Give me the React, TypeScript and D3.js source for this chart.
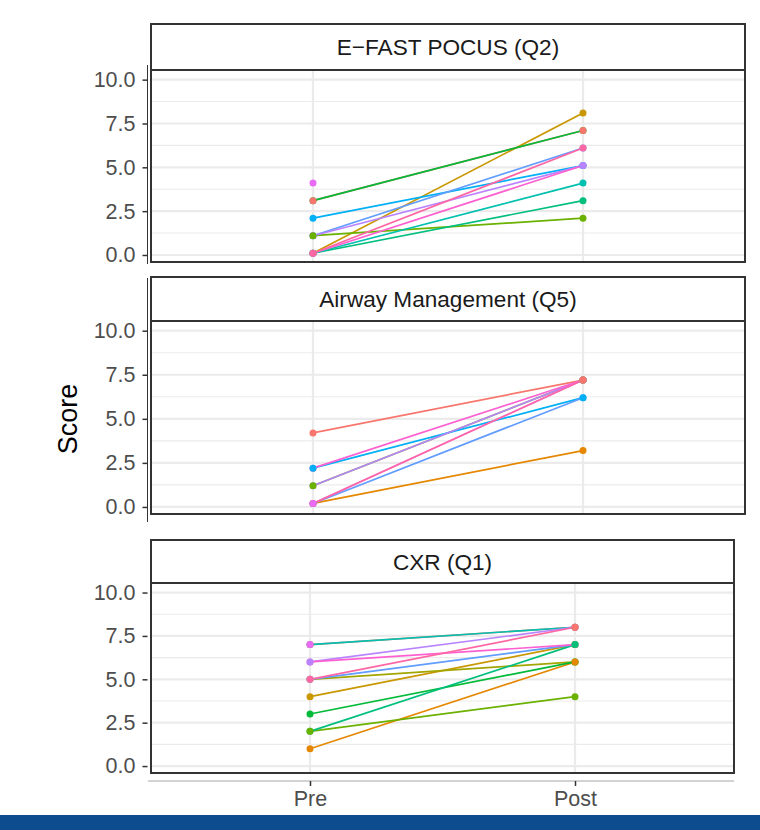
import React, { useRef, useEffect } from 'react';
import * as d3 from 'd3';

// categories and ticks
const timepoints = ['Pre', 'Post'];
const yTicks = [0, 2.5, 5, 7.5, 10];
const yMinorTicks = [1.25, 3.75, 6.25, 8.75];

// ggplot hue palette, one colour per participant (1..15)
const participantColors = [
  '#F8766D', '#E58700', '#C99800', '#A3A500', '#6BB100',
  '#00BA38', '#00BF7D', '#00C0AF', '#00BCD8', '#00B0F6',
  '#619CFF', '#B983FF', '#E76BF3', '#FD61D1', '#FF67A4',
];

// E-FAST POCUS (Q2) – rows in data order
const efastTitle = 'E\u2212FAST POCUS (Q2)';
const efastIds = [3, 7, 8, 14, 10, 11, 12, 15, 5, 6, 1, 13];
const efastPre = [0.1, 0.1, 0.1, 0.1, 2.1, 1.1, 1.1, 0.1, 1.1, 3.1, 3.1, 4.1];
const efastPost = [8.1, 3.1, 4.1, 5.1, 5.1, 6.1, 5.1, 6.1, 2.1, 7.1, 7.1, null];

// Airway Management (Q5)
const airwayTitle = 'Airway Management (Q5)';
const airwayIds = [2, 11, 15, 13, 14, 10, 12, 5, 1];
const airwayPre = [0.2, 0.2, 0.2, 0.2, 2.2, 2.2, 1.2, 1.2, 4.2];
const airwayPost = [3.2, 6.2, 7.2, 7.2, 7.2, 6.2, 7.2, 7.2, 7.2];

// CXR (Q1)
const cxrTitle = 'CXR (Q1)';
const cxrIds = [8, 14, 12, 4, 11, 15, 3, 7, 5, 6, 2, 1, 13];
const cxrPre = [7, 6, 6, 5, 5, 5, 4, 2, 2, 3, 1, 7, 7];
const cxrPost = [8, 7, 8, 6, 7, 8, 7, 7, 4, 6, 6, 8, null];

const FONT = '"Liberation Sans", Arial, Helvetica, sans-serif';

const App = () => {
  const svgRef = useRef(null);

  useEffect(() => {
    const svg = d3.select(svgRef.current);
    svg.selectAll('*').remove();

    const panels = [
      { title: efastTitle, ids: efastIds, pre: efastPre, post: efastPost,
        left: 151, right: 745, stripTop: 24, stripBottom: 70, bottom: 262, axisTop: 65, axisBottom: 264 },
      { title: airwayTitle, ids: airwayIds, pre: airwayPre, post: airwayPost,
        left: 151, right: 745, stripTop: 277, stripBottom: 321, bottom: 514, axisTop: 278, axisBottom: 522 },
      { title: cxrTitle, ids: cxrIds, pre: cxrPre, post: cxrPost,
        left: 151, right: 734, stripTop: 540, stripBottom: 583, bottom: 773, axisTop: null, axisBottom: null },
    ];

    let lastX = null;

    panels.forEach(p => {
      const g = svg.append('g');

      const x = d3.scalePoint().domain(timepoints).range([p.left, p.right]).padding(0.6);
      const y = d3.scaleLinear().domain([-0.4, 10.55]).range([p.bottom, p.stripBottom]);
      lastX = x;

      // panel background
      g.append('rect')
        .attr('x', p.left).attr('y', p.stripBottom)
        .attr('width', p.right - p.left).attr('height', p.bottom - p.stripBottom)
        .attr('fill', '#fff');

      // grid
      g.selectAll('.minor').data(yMinorTicks).enter().append('line')
        .attr('x1', p.left).attr('x2', p.right)
        .attr('y1', d => y(d)).attr('y2', d => y(d))
        .attr('stroke', '#EBEBEB').attr('stroke-width', 1.1);
      g.selectAll('.major').data(yTicks).enter().append('line')
        .attr('x1', p.left).attr('x2', p.right)
        .attr('y1', d => y(d)).attr('y2', d => y(d))
        .attr('stroke', '#EBEBEB').attr('stroke-width', 2.2);
      g.selectAll('.vmajor').data(timepoints).enter().append('line')
        .attr('x1', d => x(d)).attr('x2', d => x(d))
        .attr('y1', p.stripBottom).attr('y2', p.bottom)
        .attr('stroke', '#EBEBEB').attr('stroke-width', 2.2);

      const rows = p.ids.map((id, i) => ({ id, pre: p.pre[i], post: p.post[i] }));

      // lines, drawn in participant order
      const line = d3.line().x(d => d[0]).y(d => d[1]);
      rows.filter(r => r.post !== null)
        .sort((a, b) => a.id - b.id)
        .forEach(r => {
          g.append('path')
            .attr('d', line([[x('Pre'), y(r.pre)], [x('Post'), y(r.post)]]))
            .attr('fill', 'none')
            .attr('stroke', participantColors[r.id - 1])
            .attr('stroke-width', 1.7);
        });

      // points, drawn in row order
      const pts = [];
      rows.forEach(r => pts.push({ id: r.id, t: 'Pre', v: r.pre }));
      rows.forEach(r => { if (r.post !== null) pts.push({ id: r.id, t: 'Post', v: r.post }); });
      g.selectAll('.dot').data(pts).enter().append('circle')
        .attr('cx', d => x(d.t)).attr('cy', d => y(d.v))
        .attr('r', 3.5)
        .attr('fill', d => participantColors[d.id - 1]);

      // panel border + strip
      g.append('rect')
        .attr('x', p.left).attr('y', p.stripBottom)
        .attr('width', p.right - p.left).attr('height', p.bottom - p.stripBottom)
        .attr('fill', 'none').attr('stroke', '#333').attr('stroke-width', 2);
      g.append('rect')
        .attr('x', p.left).attr('y', p.stripTop)
        .attr('width', p.right - p.left).attr('height', p.stripBottom - p.stripTop)
        .attr('fill', '#fff').attr('stroke', '#333').attr('stroke-width', 2);
      g.append('text')
        .attr('x', (p.left + p.right) / 2)
        .attr('y', (p.stripTop + p.stripBottom) / 2 + 8)
        .attr('text-anchor', 'middle')
        .attr('font-family', FONT).attr('font-size', 22.6)
        .attr('fill', '#1A1A1A')
        .text(p.title);

      // y axis
      const yAxis = d3.axisLeft(y).tickValues(yTicks).tickFormat(d3.format('.1f'))
        .tickSize(5).tickPadding(7);
      const ag = g.append('g').attr('transform', 'translate(147.5,0)').call(yAxis);
      ag.select('.domain').remove();
      ag.selectAll('line').attr('stroke', '#333').attr('stroke-width', 1.5);
      ag.selectAll('text').attr('font-family', FONT).attr('font-size', 21.5)
        .attr('fill', '#4D4D4D');
      if (p.axisTop !== null) {
        g.append('line')
          .attr('x1', 147.5).attr('x2', 147.5)
          .attr('y1', p.axisTop).attr('y2', p.axisBottom)
          .attr('stroke', '#333').attr('stroke-width', 1);
      }
    });

    // bottom x axis
    svg.append('line')
      .attr('x1', 148).attr('x2', 734).attr('y1', 781).attr('y2', 781)
      .attr('stroke', '#A6A6A6').attr('stroke-width', 1);
    const xAxis = d3.axisBottom(lastX).tickSize(5).tickPadding(5);
    const xg = svg.append('g').attr('transform', 'translate(0,781)').call(xAxis);
    xg.select('.domain').remove();
    xg.selectAll('line').attr('stroke', '#333').attr('stroke-width', 1.5);
    xg.selectAll('text').attr('font-family', FONT).attr('font-size', 21.5)
      .attr('fill', '#4D4D4D');

    // y axis title
    svg.append('text')
      .attr('transform', 'translate(77,419) rotate(-90)')
      .attr('text-anchor', 'middle')
      .attr('font-family', FONT).attr('font-size', 27)
      .attr('fill', '#000')
      .text('Score');

    // bottom band
    svg.append('rect')
      .attr('x', 0).attr('y', 815).attr('width', 760).attr('height', 15)
      .attr('fill', '#0D4C8F');
  }, []);

  return (
    <svg ref={svgRef} width={760} height={830}
      style={{ position: 'absolute', left: 0, top: 0, background: '#fff' }} />
  );
};

export default App;
